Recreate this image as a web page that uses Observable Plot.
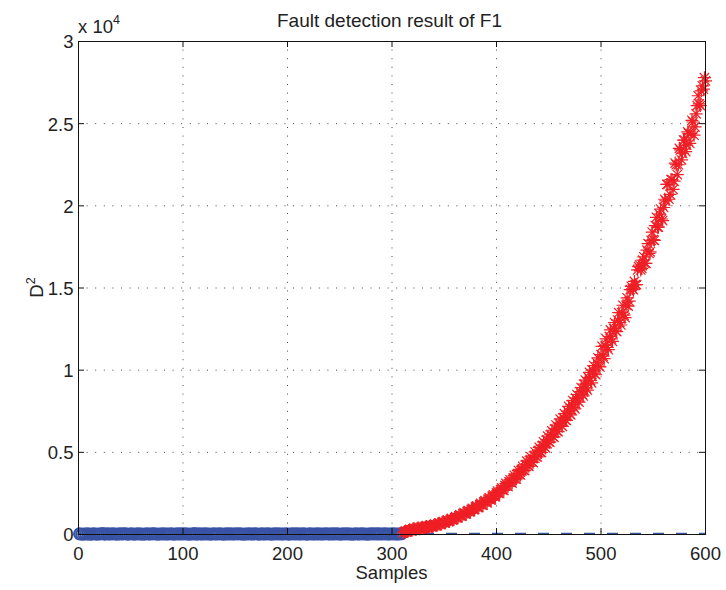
<!DOCTYPE html>
<html><head><meta charset="utf-8">
<script src="https://cdn.jsdelivr.net/npm/d3@7"></script>
<script src="https://cdn.jsdelivr.net/npm/@observablehq/plot@0.6"></script>
<style>body{margin:0;background:#fff}</style>
</head><body><div id="chart"></div>
<script>
const title = "Fault detection result of F1";
const xLabel = "Samples";
const xTicks = [0, 100, 200, 300, 400, 500, 600];
const yTicks = [0, 5000, 10000, 15000, 20000, 25000, 30000];
const threshold = 60;

// normal samples: 1, 3, 5, ... 309
const normalStart = 1, normalStep = 2;
const normalValues = [
  42,18,35,27,51,12,33,46,22,38,
  29,55,17,40,31,24,48,36,19,44,
  26,39,52,21,34,47,15,30,43,28,
  37,20,49,32,25,41,53,18,35,27,
  45,23,38,30,50,16,34,42,26,39,
  31,47,22,36,28,54,19,40,33,25,
  43,29,37,21,48,32,26,45,35,18,
  39,27,51,24,34,42,30,46,20,37,
  28,44,33,23,49,36,17,41,31,26,
  47,35,22,39,29,53,25,38,32,44,
  21,36,48,27,40,30,24,46,34,19,
  42,31,37,26,50,23,35,29,45,33,
  24,41,28,52,36,20,39,31,47,27,
  38,22,44,34,25,49,30,37,21,43,
  32,46,26,40,29,35,51,23,38,30,
  44,27,36,33,41
];

// fault samples (odd): 311, 313, ... 599
const faultOddStart = 311;
const faultOddValues = [
  100,210,180,290,260,370,300,410,350,440,
  390,490,440,540,490,610,550,690,620,780,
  720,870,800,960,910,1080,1030,1190,1130,1340,
  1250,1460,1390,1590,1520,1740,1640,1900,1780,2060,
  1930,2240,2110,2420,2300,2640,2500,2840,2690,3110,
  2920,3330,3140,3600,3380,3890,3620,4150,3890,4460,
  4150,4720,4380,5020,4720,5300,4990,5640,5270,5980,
  5620,6300,5920,6660,6260,7020,6580,7350,6940,7800,
  7280,8150,7650,8520,8050,8940,8430,9400,8780,9870,
  9230,10280,9720,10750,10200,11450,10700,11900,11250,12450,
  11750,12900,12350,13500,12750,13950,13200,14400,14200,15100,
  14900,15200,16100,16400,16200,16900,16500,17700,17200,18400,
  17900,19300,18700,19800,19100,20400,21300,20400,21600,21000,
  22600,21900,23500,22800,24000,23300,24500,23800,25200,24300,
  25600,26700,26100,27300,27800
];
// fault samples (even): 312, 314, ... 600
const faultEvenStart = 312;
const faultEvenValues = [
  170,180,250,250,330,320,370,350,410,390,
  460,440,500,480,560,560,640,610,720,720,
  820,800,910,880,1020,1010,1140,1110,1270,1250,
  1400,1380,1530,1510,1680,1640,1820,1790,1980,1950,
  2150,2110,2330,2300,2530,2500,2730,2700,2980,2940,
  3200,3150,3440,3380,3700,3660,3960,3910,4250,4190,
  4520,4430,4800,4730,5100,5000,5420,5330,5760,5640,
  6080,5950,6430,6280,6780,6640,7100,6970,7510,7360,
  7900,7740,8300,8120,8700,8530,9150,8920,9550,9370,
  10000,9780,10450,10250,10950,10850,11500,11380,12050,11900,
  12550,12400,13050,12900,13500,13350,13950,13900,14900,14950,
  15400,15200,16300,16100,16700,16500,17300,17100,17900,17950,
  18800,18700,19500,19200,19900,20300,21300,20700,21600,21500,
  22500,22500,23400,23200,24000,23700,24400,24400,25100,24800,
  26100,26200,27000,27100,27600
];

const normal = normalValues.map((v, i) => ({sample: normalStart + i * normalStep, d2: v}));
const fault = [
  ...faultOddValues.map((v, i) => ({sample: faultOddStart + i * 2, d2: v})),
  ...faultEvenValues.map((v, i) => ({sample: faultEvenStart + i * 2, d2: v}))
].sort((a, b) => a.sample - b.sample);

const W = 726, H = 590, mL = 78, mR = 21, mT = 41, mB = 56;
const innerW = W - mL - mR, innerH = H - mT - mB;
const tick = 6;
const fs = 18.5;

const matlabStar = {
  draw(context, size) {
    const r = Math.sqrt(size / Math.PI);
    const d = r * 0.72;
    context.moveTo(-r, 0); context.lineTo(r, 0);
    context.moveTo(0, -r); context.lineTo(0, r);
    context.moveTo(-d, -d); context.lineTo(d, d);
    context.moveTo(-d, d); context.lineTo(d, -d);
  }
};

const chart = Plot.plot({
  width: W, height: H,
  marginLeft: mL, marginRight: mR, marginTop: mT, marginBottom: mB,
  style: {fontFamily: "'Liberation Sans', Arial, Helvetica, sans-serif", fontSize: fs + "px", color: "#222", background: "#fff"},
  x: {domain: [0, 600]},
  y: {domain: [0, 30000]},
  marks: [
    Plot.gridX(xTicks.slice(1, -1), {stroke: "#333", strokeOpacity: 0.9, strokeDasharray: "1,7.6"}),
    Plot.gridY(yTicks.slice(1, -1), {stroke: "#333", strokeOpacity: 0.9, strokeDasharray: "1,7.6"}),
    Plot.ruleY([threshold], {stroke: "#3a55a5", strokeWidth: 1.5, strokeDasharray: "11,12"}),
    Plot.dot(normal, {x: "sample", y: "d2", r: 5.5, stroke: "#3953a4", strokeWidth: 2, fill: "none"}),
    Plot.dot(fault, {x: "sample", y: "d2", r: 6.5, symbol: matlabStar, stroke: "#ee1f25", strokeWidth: 1.2, fill: "none"}),
    Plot.frame({stroke: "#111", strokeWidth: 1}),
    Plot.ruleX(xTicks, {stroke: "#111", insetTop: innerH - tick}),
    Plot.ruleX(xTicks, {stroke: "#111", insetBottom: innerH - tick}),
    Plot.ruleY(yTicks, {stroke: "#111", insetRight: innerW - tick}),
    Plot.ruleY(yTicks, {stroke: "#111", insetLeft: innerW - tick}),
    Plot.axisX({ticks: xTicks, tickSize: 0, tickPadding: 12, label: null, fontSize: fs}),
    Plot.axisY({ticks: yTicks, tickSize: 0, tickPadding: 5, tickFormat: d => String(d / 1e4), label: null, dy: 1, fontSize: fs})
  ]
});

const svg = d3.select(chart);
const txt = "#222";
svg.append("text").attr("x", mL + innerW / 2 - 2).attr("y", 27).attr("text-anchor", "middle")
  .attr("fill", txt).attr("font-size", 19).text(title);
svg.append("text").attr("x", mL + innerW / 2).attr("y", 579).attr("text-anchor", "middle")
  .attr("fill", txt).attr("font-size", 18.5).text(xLabel);
const yl = svg.append("text").attr("transform", `translate(43,${mT + innerH / 2}) rotate(-90)`)
  .attr("text-anchor", "middle").attr("fill", txt).attr("font-size", 18.5);
yl.append("tspan").text("D");
yl.append("tspan").attr("dy", -8).attr("font-size", 12.5).text("2");
const ex = svg.append("text").attr("x", 78).attr("y", 33).attr("text-anchor", "start").attr("fill", txt).attr("font-size", 18.5);
ex.append("tspan").text("x 10");
ex.append("tspan").attr("dy", -9).attr("font-size", 12.5).text("4");

document.getElementById("chart").appendChild(chart);
</script>
</body></html>
